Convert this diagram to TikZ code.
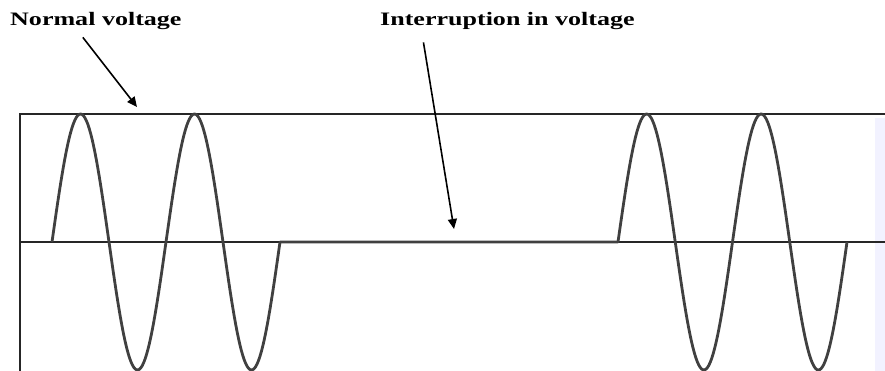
\documentclass[tikz,border=0pt]{standalone}
\usepackage{fontspec}
\setmainfont{Liberation Serif}
\usetikzlibrary{arrows.meta,positioning}
\newcommand{\WideLbl}[1]{\scalebox{1.37}[1]{\textbf{#1}}}

\begin{document}
\begin{tikzpicture}[
  x=1pt, y=-1pt,
  lbl/.style = {anchor=base west, inner sep=0pt, font=\fontsize{19}{21}\selectfont},
  arr/.style = {-{Triangle[length=10pt,width=9pt]}, line width=1.6pt},
  frame/.style = {line width=2.4pt, black!85},
  wave/.style = {line width=2.8pt, black!75, line join=round},
]
\useasboundingbox (0,0) rectangle (885,371);
\fill[blue!5] (875,118) rectangle (885,371);
% axes
\draw[frame] (885,114) -- (20,114) -- (20,371);
\draw[frame] (20,242) -- (885,242);
% supply voltage, cut off in the middle
\draw[wave] plot[domain=52:280, samples=160] (\x, {242-128*sin((\x-52)/114*360)})
  -- (618,242)
  -- plot[domain=618:847, samples=160] (\x, {242-128*sin((\x-618)/114.5*360)});
\node[lbl] (normal) at (10,26) {\WideLbl{Normal voltage}};
\node[lbl] (interrupt) at (380,26) {\WideLbl{Interruption in voltage}};
\coordinate (nvtip) at (137,107);
\coordinate (ivtip) at (454,229);
\draw[arr] ([xshift=-13pt,yshift=-7pt]normal.south) -- (nvtip);
\draw[arr] ([xshift=-84pt,yshift=-12pt]interrupt.south) -- (ivtip);
\end{tikzpicture}
\end{document}
